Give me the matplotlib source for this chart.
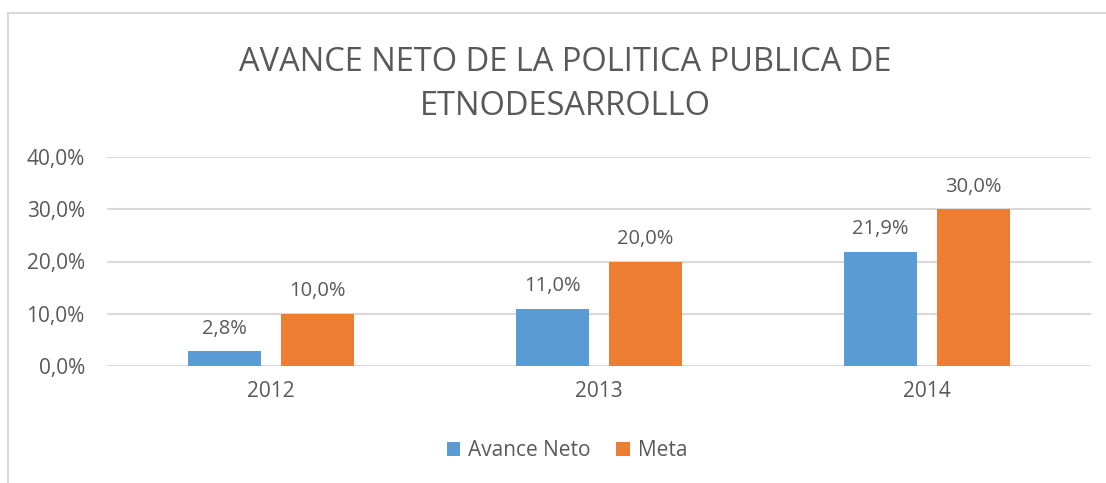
import matplotlib
matplotlib.use("Agg")
import matplotlib.pyplot as plt
from matplotlib.lines import Line2D
import numpy as np

years = ["2012", "2013", "2014"]
avance_neto = [2.8, 11.0, 21.9]
meta = [10.0, 20.0, 30.0]
yticks = [0, 10, 20, 30, 40]
title = "AVANCE NETO DE LA POLITICA PUBLICA DE\nETNODESARROLLO"

plt.rcParams['font.family'] = ['Open Sans', 'DejaVu Sans']
TXT = '#595959'
GRID = '#d9d9d9'

fig = plt.figure(figsize=(11.06, 4.83), dpi=100)
ax = fig.add_axes([107/1106, 1-366/483, (1091-107)/1106, (366-157)/483])

x = np.arange(len(years))
w = 0.2226
off = 0.142
b1 = ax.bar(x - off, avance_neto, w, color='#5B9BD5', label='Avance Neto', zorder=3)
b2 = ax.bar(x + off, meta, w, color='#ED7D31', label='Meta', zorder=3)

for bars, vals in ((b1, avance_neto), (b2, meta)):
    for r, v in zip(bars, vals):
        ax.annotate(f"{v:.1f}%".replace('.', ','), (r.get_x() + r.get_width()/2, v),
                    xytext=(0, 9), textcoords='offset points', ha='center', va='bottom',
                    fontsize=14.5, color=TXT)

ax.set_xlim(-0.5, 2.5)
ax.set_ylim(0, 40)
ax.set_yticks(yticks)
ax.set_yticklabels([f"{t:.1f}%".replace('.', ',') for t in yticks])
ax.set_xticks(x)
ax.set_xticklabels(years)
ax.tick_params(axis='y', length=0, pad=16, labelsize=15, labelcolor=TXT)
ax.tick_params(axis='x', length=0, pad=11, labelsize=15, labelcolor=TXT)
ax.yaxis.grid(True, color=GRID, linewidth=1.5, zorder=0)
ax.set_axisbelow(True)
for s in ax.spines.values():
    s.set_visible(False)

fig.text(565/1106, 1-84.5/483, title, ha='center', va='center', fontsize=23.5,
         color=TXT, linespacing=1.45)

fig.legend(handles=[b1, b2], labels=['Avance Neto', 'Meta'], loc='center',
           bbox_to_anchor=(567/1106, 1-451/483), ncol=2, frameon=False,
           fontsize=15, labelcolor=TXT, handlelength=0.65, handleheight=0.65,
           handletextpad=0.4, columnspacing=1.2)

# chart border (top and left visible)
fig.add_artist(Line2D([8/1106, 1], [1-13/483, 1-13/483], transform=fig.transFigure, color=GRID, lw=1.5))
fig.add_artist(Line2D([8/1106, 8/1106], [0, 1-13/483], transform=fig.transFigure, color=GRID, lw=1.5))

fig.savefig("out.png", dpi=100, facecolor='white')
